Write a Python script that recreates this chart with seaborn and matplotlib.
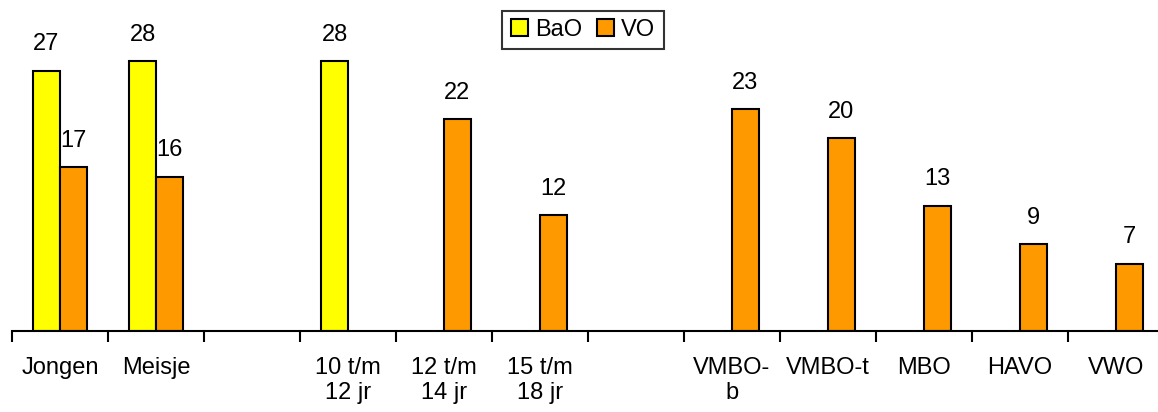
import pandas as pd
import matplotlib.pyplot as plt
import seaborn as sns

# categories on the x axis (two blank spacer slots)
categories = ["Jongen", "Meisje", "", "10 t/m\n12 jr", "12 t/m\n14 jr", "15 t/m\n18 jr",
              " ", "VMBO-\nb", "VMBO-t", "MBO", "HAVO", "VWO"]
bao_cats = ["Jongen", "Meisje", "10 t/m\n12 jr"]
bao_vals = [27, 28, 28]
vo_cats = ["Jongen", "Meisje", "12 t/m\n14 jr", "15 t/m\n18 jr",
           "VMBO-\nb", "VMBO-t", "MBO", "HAVO", "VWO"]
vo_vals = [17, 16, 22, 12, 23, 20, 13, 9, 7]

df = pd.concat([
    pd.DataFrame({"cat": bao_cats, "waarde": bao_vals, "groep": "BaO"}),
    pd.DataFrame({"cat": vo_cats, "waarde": vo_vals, "groep": "VO"}),
])

sns.set_style("white")
plt.rcParams['font.family'] = ['Liberation Sans', 'DejaVu Sans']
plt.rcParams['text.color'] = 'black'
plt.rcParams['xtick.color'] = 'black'

fig = plt.figure(figsize=(11.58, 4.12), dpi=100)
ax = fig.add_axes([12 / 1158, (412 - 331) / 412, 1152 / 1158, 300 / 412])

sns.barplot(data=df, x="cat", y="waarde", hue="groep", order=categories,
            hue_order=["BaO", "VO"], palette={"BaO": "#FFFF00", "VO": "#FF9900"},
            saturation=1, width=0.56, gap=0, edgecolor="black", linewidth=1.5,
            ax=ax, errorbar=None)

for c in ax.containers:
    ax.bar_label(c, fmt="%g", padding=11, fontsize=17, color="black")

ax.set_xlim(-0.5, 11.5)
ax.set_ylim(0, 300 / 9.64)
ax.set_xlabel("")
ax.set_ylabel("")
ax.set_yticks([])

# tick marks on category boundaries, labels centered without marks
ax.set_xticks([i - 0.5 for i in range(13)])
ax.set_xticklabels([])
ax.tick_params(axis="x", which="major", length=8, width=1.5, color="black", bottom=True)
ax.set_xticks(range(12), minor=True)
ax.set_xticklabels(categories, minor=True, fontsize=17, linespacing=1.15, color="black")
ax.tick_params(axis="x", which="minor", length=0, pad=19)

for s in ["top", "right", "left"]:
    ax.spines[s].set_visible(False)
ax.spines["bottom"].set_color("black")
ax.spines["bottom"].set_linewidth(1.5)

leg = ax.legend(ncol=2, loc="center", bbox_to_anchor=(583 / 1158, 1 - 30 / 412),
                bbox_transform=fig.transFigure, fontsize=17, frameon=True, fancybox=False,
                handlelength=0.75, handleheight=0.75, handletextpad=0.3, columnspacing=0.6,
                borderpad=0.35, borderaxespad=0)
leg.get_frame().set_edgecolor("black")
leg.get_frame().set_linewidth(1.5)
for t in leg.get_texts():
    t.set_color("black")

fig.savefig("out.png", dpi=100)
